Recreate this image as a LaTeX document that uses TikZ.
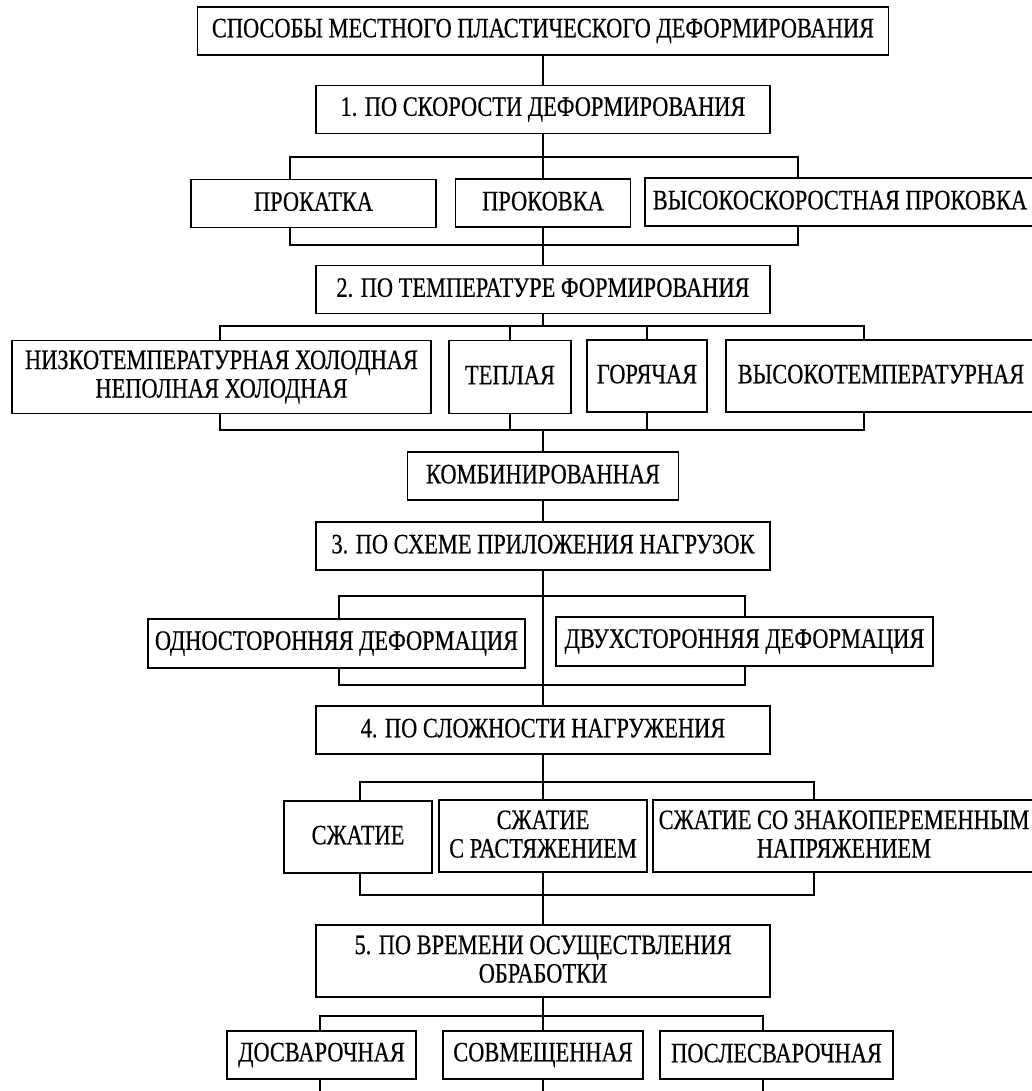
\documentclass[tikz,border=0pt]{standalone}
\usepackage{fontspec}
\setmainfont{Liberation Serif}[FakeStretch=0.8,FakeBold=0.4]
\usetikzlibrary{positioning,calc}
\newcommand{\mstrut}{\rule[-4pt]{0pt}{22pt}}

\begin{document}
\begin{tikzpicture}[x=1pt,y=-1pt,
  methbox/.style={draw,line width=1.8pt,fill=white,minimum height=48,inner sep=0pt,
    align=center,font=\fontsize{28}{28.5}\selectfont,
    execute at begin node=\mstrut,execute at end node=\mstrut},
  link/.style={line width=1.8pt}
]
  \fill[white] (0,0) rectangle (1032,1091);
  \useasboundingbox (0,0) rectangle (1032,1091);
  % Root
  \node[methbox,minimum width=691] (root) at (543,31) {СПОСОБЫ МЕСТНОГО ПЛАСТИЧЕСКОГО ДЕФОРМИРОВАНИЯ};
  % 1: speed
  \node[methbox,minimum width=454] (speed) at (543,109.5) {1. ПО СКОРОСТИ ДЕФОРМИРОВАНИЯ};
  \node[methbox,minimum width=245] (prokatka) at (313.5,203.5) {ПРОКАТКА};
  \node[methbox,minimum width=175] (prokovka) at (543,203) {ПРОКОВКА};
  \node[methbox,minimum width=390] (hsprokovka) at (840,202) {ВЫСОКОСКОРОСТНАЯ ПРОКОВКА};
  % 2: temperature
  \node[methbox,minimum width=454] (temp) at (543,289.5) {2. ПО ТЕМПЕРАТУРЕ ФОРМИРОВАНИЯ};
  \node[methbox,minimum width=419,minimum height=73] (cold) at (221.5,377) {НИЗКОТЕМПЕРАТУРНАЯ ХОЛОДНАЯ\\НЕПОЛНАЯ ХОЛОДНАЯ};
  \node[methbox,minimum width=122,minimum height=73] (warm) at (510,377) {ТЕПЛАЯ};
  \node[methbox,minimum width=120,minimum height=72] (hot) at (647,376) {ГОРЯЧАЯ};
  \node[methbox,minimum width=310,minimum height=72] (hightemp) at (881,376) {ВЫСОКОТЕМПЕРАТУРНАЯ};
  \node[methbox,minimum width=271] (comb) at (543,476) {КОМБИНИРОВАННАЯ};
  % 3: load scheme
  \node[methbox,minimum width=454] (load) at (543,546) {3. ПО СХЕМЕ ПРИЛОЖЕНИЯ НАГРУЗОК};
  \node[methbox,minimum width=377,minimum height=49] (oneside) at (336.5,643.5) {ОДНОСТОРОННЯЯ ДЕФОРМАЦИЯ};
  \node[methbox,minimum width=377,minimum height=49] (twoside) at (744.5,641.5) {ДВУХСТОРОННЯЯ ДЕФОРМАЦИЯ};
  % 4: loading complexity
  \node[methbox,minimum width=454] (complex) at (543,730) {4. ПО СЛОЖНОСТИ НАГРУЖЕНИЯ};
  \node[methbox,minimum width=148,minimum height=72] (compr) at (358,837) {СЖАТИЕ};
  \node[methbox,minimum width=208,minimum height=72] (comprten) at (543,836) {СЖАТИЕ\\С РАСТЯЖЕНИЕМ};
  \node[methbox,minimum width=382,minimum height=72] (comprvar) at (844,836) {СЖАТИЕ СО ЗНАКОПЕРЕМЕННЫМ\\НАПРЯЖЕНИЕМ};
  % 5: processing time
  \node[methbox,minimum width=454,minimum height=72] (time) at (543,961) {5. ПО ВРЕМЕНИ ОСУЩЕСТВЛЕНИЯ\\ОБРАБОТКИ};
  \node[methbox,minimum width=189] (pre) at (321.5,1055) {ДОСВАРОЧНАЯ};
  \node[methbox,minimum width=200] (joint) at (543,1055) {СОВМЕЩЕННАЯ};
  \node[methbox,minimum width=233] (post) at (776.5,1055) {ПОСЛЕСВАРОЧНАЯ};

  % bus ends
  \coordinate (a1) at (290,157);  \coordinate (a2) at (798,157);
  \coordinate (b1) at (290,245);  \coordinate (b2) at (798,245);
  \coordinate (c1) at (220,326);  \coordinate (c2) at (864,326);
  \coordinate (d1) at (220,430);  \coordinate (d2) at (864,430);
  \coordinate (e1) at (339,596);  \coordinate (e2) at (745,596);
  \coordinate (f1) at (339,685);  \coordinate (f2) at (745,685);
  \coordinate (g1) at (360,782);  \coordinate (g2) at (814,782);
  \coordinate (h1) at (360,895);  \coordinate (h2) at (814,895);
  \coordinate (k1) at (320,1016); \coordinate (k2) at (763,1016);
  \coordinate (m1) at (320,1095); \coordinate (m2) at (543,1095); \coordinate (m3) at (763,1095);

  % trunk
  \draw[link] (root) -- (speed);
  \draw[link] (speed) -- (prokovka);
  \draw[link] (prokovka) -- (temp);
  \draw[link] (temp.south) -- (temp.south |- c1);
  \draw[link] (comb.north) -- (comb.north |- d1);
  \draw[link] (comb) -- (load);
  \draw[link] (load) -- (complex);
  \draw[link] (complex) -- (comprten);
  \draw[link] (comprten) -- (time);
  \draw[link] (time) -- (joint);
  % row 1
  \draw[link] (prokatka.north -| a1) |- (a2) -- (a2 |- hsprokovka.north);
  \draw[link] (prokatka.south -| b1) |- (b2) -- (b2 |- hsprokovka.south);
  % row 2
  \draw[link] (cold.north -| c1) |- (c2) -- (c2 |- hightemp.north);
  \draw[link] (cold.south -| d1) |- (d2) -- (d2 |- hightemp.south);
  \draw[link] (warm.north) -- (warm.north |- c1) (hot.north) -- (hot.north |- c1);
  \draw[link] (warm.south) -- (warm.south |- d1) (hot.south) -- (hot.south |- d1);
  % row 3
  \draw[link] (oneside.north -| e1) |- (e2) -- (e2 |- twoside.north);
  \draw[link] (oneside.south -| f1) |- (f2) -- (f2 |- twoside.south);
  % row 4
  \draw[link] (compr.north -| g1) |- (g2) -- (g2 |- comprvar.north);
  \draw[link] (compr.south -| h1) |- (h2) -- (h2 |- comprvar.south);
  % row 5
  \draw[link] (pre.north -| k1) |- (k2) -- (k2 |- post.north);
  \draw[link] (pre.south -| m1) -- (m1);
  \draw[link] (joint.south) -- (m2);
  \draw[link] (post.south -| m3) -- (m3);
\end{tikzpicture}
\end{document}
